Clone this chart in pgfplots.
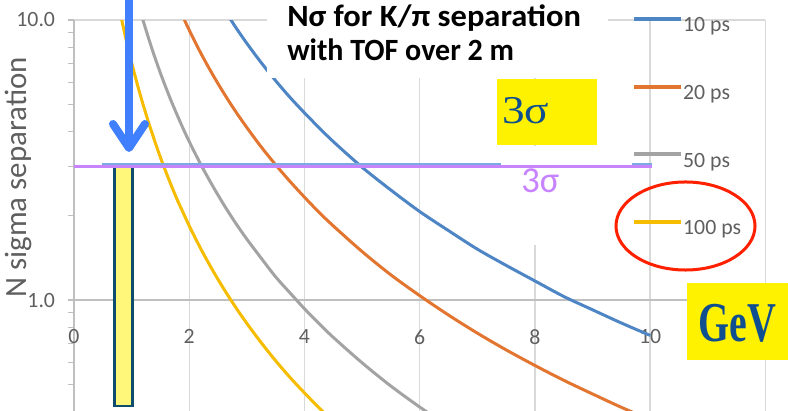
\documentclass[border=0pt]{standalone}
\usepackage{pgfplots}
\pgfplotsset{compat=1.18}
\usepackage{fontspec}
\setmainfont{Carlito}
\newfontfamily\serifsym{Liberation Serif}

\definecolor{c10}{HTML}{4E85C5}
\definecolor{c20}{HTML}{E2752F}
\definecolor{c50}{HTML}{A3A3A3}
\definecolor{c100}{HTML}{F5BC00}
\definecolor{gridgray}{HTML}{D9D9D9}
\definecolor{axisgray}{HTML}{BFBFBF}
\definecolor{labelgray}{HTML}{5F5F5F}
\definecolor{lilac}{HTML}{C883FF}
\definecolor{refblue}{HTML}{7AAAE0}
\definecolor{markfill}{HTML}{FFF77A}
\definecolor{markedge}{HTML}{0E4D6E}
\definecolor{arrowblue}{HTML}{4080FF}
\definecolor{navytext}{HTML}{0F4F8F}
\definecolor{ringred}{HTML}{FF2000}

\begin{document}
\begin{tikzpicture}
\begin{axis}[
  at={(1.85cm,-0.5cm)}, anchor=north west,
  scale only axis, width=17.28cm, height=9.785cm,
  xmin=0, xmax=12, ymin=0.4, ymax=10, ymode=log,
  axis x line=middle, axis y line=left,
  axis line style={-},
  every inner x axis line/.append style={-, draw=axisgray, line width=0.06cm},
  every outer y axis line/.append style={-, draw=axisgray, line width=0.04cm},
  hide obscured x ticks=false,
  xtick={0,2,4,6,8,10},
  extra x ticks={12}, extra x tick labels={},
  extra x tick style={grid=major, xtick style={draw=none}},
  xmajorgrids, ymajorgrids,
  major grid style={draw=gridgray, line width=0.035cm},
  xtick style={draw=none},
  ytick={1,10}, yticklabels={1.0,10.0},
  minor ytick={0.4,0.5,0.6,0.7,0.8,0.9,2,3,4,5,6,7,8,9},
  ytick style={draw=axisgray, line width=0.03cm},
  tick align=outside,
  major tick length=0.15cm, minor tick length=0.15cm,
  /pgf/number format/assume math mode=true,
  tick label style={font=\fontsize{15.5}{18}\selectfont, text=labelgray},
  xticklabel style={anchor=north, yshift=-0.47cm},
  yticklabel style={anchor=east, xshift=-0.2cm},
  ylabel={N sigma separation},
  every axis y label/.style={at={(axis description cs:-0.0694,0.598)}, rotate=90, anchor=base,
    font=\fontsize{22}{25}\selectfont, text=labelgray},
  legend style={at={(axis description cs:0.8073,1.0077)}, anchor=north west,
    draw=none, fill=none, inner sep=0pt, outer sep=0pt, row sep=1.2125cm,
    font=\fontsize{15.5}{18}\selectfont, text=labelgray,
    nodes={inner sep=0pt, text height=0.35cm, text depth=0.1cm}},
  legend image code/.code={\draw[#1, line width=0.1cm] (0cm,0.2cm) -- (1.175cm,0.2cm);},
  legend cell align=left,
  /tikz/every odd column/.append style={column sep=0cm},
]
% N sigma = time-of-flight difference over 2 m divided by the timing resolution
\addplot[c10, line width=0.075cm, smooth] coordinates {
  (2.6,10.96) (2.8,9.46) (3.0,8.25) (3.25,7.04) (3.5,6.07) (3.75,5.29)
  (4.0,4.66) (4.25,4.13) (4.5,3.68) (5,2.98) (5.5,2.47) (6,2.07) (6.5,1.77)
  (7,1.52) (7.5,1.33) (8,1.17) (8.5,1.03) (9,0.923) (9.5,0.828) (10,0.748)};
\addlegendentry{10 ps}
\addplot[c20, line width=0.075cm, smooth] coordinates {
  (1.8,11.32) (1.9,10.18) (2.0,9.20) (2.2,7.62) (2.4,6.42) (2.6,5.48)
  (2.8,4.73) (3.0,4.13) (3.25,3.52) (3.5,3.04) (3.75,2.65) (4.0,2.33)
  (4.25,2.06) (4.5,1.84) (5,1.49) (5.5,1.23) (6,1.037) (6.5,0.884)
  (7,0.762) (7.5,0.664) (8,0.584) (8.5,0.517) (9,0.462) (9.5,0.414) (10,0.374)};
\addlegendentry{20 ps}
\addplot[c50, line width=0.075cm, smooth] coordinates {
  (1.1,11.75) (1.2,9.95) (1.3,8.53) (1.4,7.39) (1.5,6.46) (1.6,5.70)
  (1.7,5.06) (1.8,4.53) (1.9,4.07) (2.0,3.68) (2.2,3.05) (2.4,2.57)
  (2.6,2.19) (2.8,1.89) (3.0,1.65) (3.25,1.41) (3.5,1.21) (3.75,1.06)
  (4.0,0.931) (4.25,0.825) (4.5,0.736) (5,0.597) (5.5,0.493) (6,0.415) (6.5,0.354)};
\addlegendentry{50 ps}
\addplot[c100, line width=0.075cm, smooth] coordinates {
  (0.8,10.67) (0.85,9.54) (0.9,8.58) (0.95,7.75) (1.0,7.04) (1.1,5.88)
  (1.2,4.98) (1.3,4.27) (1.4,3.70) (1.5,3.23) (1.6,2.85) (1.7,2.53)
  (1.8,2.26) (1.9,2.04) (2.0,1.84) (2.2,1.525) (2.4,1.284) (2.6,1.096)
  (2.8,0.946) (3.0,0.825) (3.25,0.704) (3.5,0.607) (3.75,0.529) (4.0,0.466)
  (4.25,0.413) (4.5,0.368)};
\addlegendentry{100 ps}

% momentum window around 1 GeV
\addplot[forget plot, fill=markfill, draw=markedge, line width=0.065cm]
  coordinates {(0.703,0.418) (0.703,3) (1.016,3) (1.016,0.418)} -- cycle;
% 3 sigma reference lines
\addplot[forget plot, refblue, line width=0.05cm] coordinates {(0.49,3.06) (10.03,3.06)};
\addplot[forget plot, fill=white, draw=none]
  coordinates {(7.41,1.57) (7.41,3.55) (9.69,3.55) (9.69,1.57)} -- cycle;
\addplot[forget plot, lilac, line width=0.075cm] coordinates {(0,3) (10.03,3)};
\end{axis}

\begin{scope}[x=0.025cm,y=-0.025cm]
  % title
  \fill[white] (267,-2) rectangle (608,78);
  \node[anchor=base west, inner sep=0pt, font=\bfseries\fontsize{22}{25}\selectfont]
    at (287,27) {\scalebox{1.05}[1]{Nσ for K/π separation}};
  \node[anchor=base west, inner sep=0pt, font=\bfseries\fontsize{22}{25}\selectfont]
    at (287,61) {\scalebox{0.97}[1]{with TOF over 2 m}};
  % 3 sigma tag
  \fill[yellow] (497,79) rectangle (597,145);
  \node[anchor=base west, inner sep=0pt, text=navytext, font=\serifsym\fontsize{28}{30}\selectfont]
    at (502,124) {\scalebox{1.15}[1]{3σ}};
  \node[anchor=base west, inner sep=0pt, text=lilac, font=\fontsize{26}{30}\selectfont]
    at (521,193) {3σ};
  % highlight of the 100 ps entry
  \draw[ringred, line width=0.075cm] (685.5,226) ellipse [x radius=1.7375cm, y radius=1.1cm];
  % arrow down to 1 GeV
  \draw[arrowblue, line width=0.2cm] (129,-5) -- (129,146);
  \draw[arrowblue, line width=0.2cm, line cap=round, line join=round]
    (113,124) -- (129,148) -- (145,124);
  % unit tag
  \fill[yellow] (687,283) rectangle (790,360);
  \node[anchor=base west, inner sep=0pt, text=navytext, font=\serifsym\bfseries\fontsize{40}{44}\selectfont]
    at (698,342) {\scalebox{0.71}[1]{GeV}};
  % page frame: 788 x 411 units, origin top left
  \pgfresetboundingbox
  \useasboundingbox (0,0) rectangle (788,411);
\end{scope}
\end{tikzpicture}
\end{document}
